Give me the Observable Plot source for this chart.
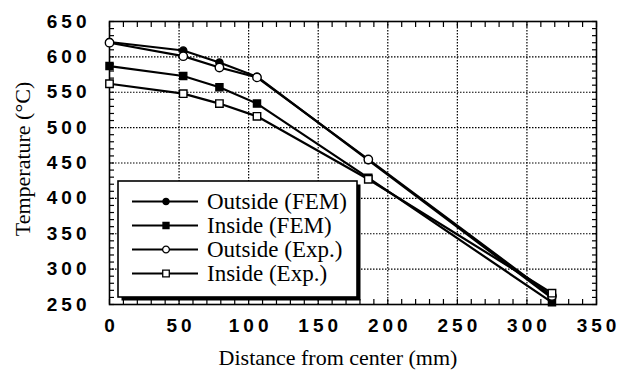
<!DOCTYPE html>
<html>
<head>
<meta charset="utf-8">
<script src="https://cdn.jsdelivr.net/npm/d3@7"></script>
<script src="https://cdn.jsdelivr.net/npm/@observablehq/plot@0.6"></script>
<style>
  html, body { margin: 0; padding: 0; background: #fff; }
  #chart { position: relative; }
  #chart svg { display: block; background: #fff; }
  #chart g[aria-label="y-axis tick label"],
  #chart g[aria-label="x-axis tick label"] {
    font-family: "Liberation Sans", Arial, sans-serif;
    font-size: 19px;
    font-weight: bold;
    letter-spacing: 4px;
    fill: black;
  }
</style>
</head>
<body>
<div id="chart"></div>
<script>
// Distance from the center (mm) of each measuring position
const distance = [0, 53, 79, 106, 186, 318];

// Temperatures (°C) along the section
const outsideFEM = [621, 609, 592, 572, 454, 259];
const insideFEM  = [587, 573, 557, 534, 429, 253];
const outsideExp = [620, 601, 585, 571, 455, 262];
const insideExp  = [562, 548, 534, 516, 427, 266];

const seriesNames = ["Outside (FEM)", "Inside (FEM)", "Outside (Exp.)", "Inside (Exp.)"];
const seriesValues = [outsideFEM, insideFEM, outsideExp, insideExp];
const seriesSymbols = ["circle", "square", "circle", "square"];
const seriesFills = ["black", "black", "white", "white"];
const seriesRadius = [3.6, 4, 4.2, 4.2];

// Axis ticks
const xTicks = [0, 50, 100, 150, 200, 250, 300, 350];
const yTicks = [250, 300, 350, 400, 450, 500, 550, 600, 650];
const xMinor = d3.range(0, 351, 10);
const yMinor = d3.range(250, 651, 10);

const W = 619, H = 376;
const mL = 109, mR = 23, mT = 21, mB = 72;
const minorLen = 5;

// Long table: one row per series and position
const rows = seriesNames.flatMap((name, i) =>
  distance.map((d, j) => ({series: name, idx: i, x: d, y: seriesValues[i][j]}))
);

const grid = {stroke: "black", strokeOpacity: 1, strokeWidth: 1.2, strokeDasharray: "1.5,1.5"};
const minor = {text: null, label: null, tickSize: minorLen, stroke: "black", strokeWidth: 1.2};
const serif = "Liberation Serif, Times New Roman, serif";

const marks = [
  Plot.gridX(xTicks.slice(1, -1), grid),
  Plot.gridY(yTicks.slice(1, -1), grid),
  // minor ticks pointing inward on all four sides
  Plot.axisX({anchor: "bottom", ticks: xMinor, dy: -minorLen, ...minor}),
  Plot.axisX({anchor: "top", ticks: xMinor, dy: minorLen, ...minor}),
  Plot.axisY({anchor: "left", ticks: yMinor, dx: minorLen, ...minor}),
  Plot.axisY({anchor: "right", ticks: yMinor, dx: -minorLen, ...minor}),
  Plot.frame({stroke: "black", strokeWidth: 1.6}),
  Plot.axisX({ticks: xTicks, tickSize: 0, tickPadding: 14, dx: 2, label: null}),
  Plot.axisY({ticks: yTicks, tickSize: 0, tickPadding: 19, label: null}),
  Plot.text(["Distance from center (mm)"], {frameAnchor: "bottom", textAnchor: "middle", dx: -15, dy: 53,
    lineAnchor: "middle", fontSize: 22, fontFamily: serif, fill: "black"}),
  Plot.text(["Temperature (°C)"], {frameAnchor: "left", textAnchor: "middle", rotate: -90, dx: -87, dy: -4,
    lineAnchor: "middle", fontSize: 22, fontFamily: serif, fill: "black"}),
  ...seriesNames.map((name, i) =>
    Plot.line(rows.filter(r => r.idx === i), {x: "x", y: "y", stroke: "black", strokeWidth: 2.2})
  ),
  ...seriesNames.map((name, i) =>
    Plot.dot(rows.filter(r => r.idx === i), {x: "x", y: "y", symbol: seriesSymbols[i],
      r: seriesRadius[i], fill: seriesFills[i], stroke: "black", strokeWidth: 1.4})
  )
];

const chart = Plot.plot({
  width: W, height: H,
  marginLeft: mL, marginRight: mR, marginTop: mT, marginBottom: mB,
  x: {domain: [0, 350]},
  y: {domain: [250, 650]},
  marks
});
document.getElementById("chart").append(chart);

// Boxed legend with a drop shadow, inside the plotting area
const svg = d3.select(chart);
const box = {x: 118, y: 181, w: 239, h: 116, shadow: 3.5};
const legend = svg.append("g").attr("class", "legend");
legend.append("rect")
  .attr("x", box.x + box.shadow).attr("y", box.y + box.shadow)
  .attr("width", box.w).attr("height", box.h).attr("fill", "black");
legend.append("rect")
  .attr("x", box.x).attr("y", box.y)
  .attr("width", box.w).attr("height", box.h)
  .attr("fill", "white").attr("stroke", "black").attr("stroke-width", 1.6);

const rowY0 = 201.5, rowStep = 24;
const symbolMap = {circle: d3.symbolCircle, square: d3.symbolSquare};
const legendR = [3.1, 3.4, 3.4, 3.7];
seriesNames.forEach((name, i) => {
  const y = rowY0 + i * rowStep;
  const g = legend.append("g");
  g.append("line").attr("x1", 132).attr("x2", 198).attr("y1", y).attr("y2", y)
    .attr("stroke", "black").attr("stroke-width", 2.2);
  g.append("path")
    .attr("d", d3.symbol(symbolMap[seriesSymbols[i]], Math.PI * legendR[i] * legendR[i])())
    .attr("transform", `translate(166,${y})`)
    .attr("fill", seriesFills[i]).attr("stroke", "black").attr("stroke-width", 1.3);
  g.append("text").attr("x", 207).attr("y", y).attr("dy", "0.34em")
    .attr("text-anchor", "start")
    .attr("font-family", serif)
    .attr("font-size", 23).attr("fill", "black").text(name);
});

// settle layout once everything is in place
chart.querySelectorAll("g").forEach(g => g.getBBox());
</script>
</body>
</html>
